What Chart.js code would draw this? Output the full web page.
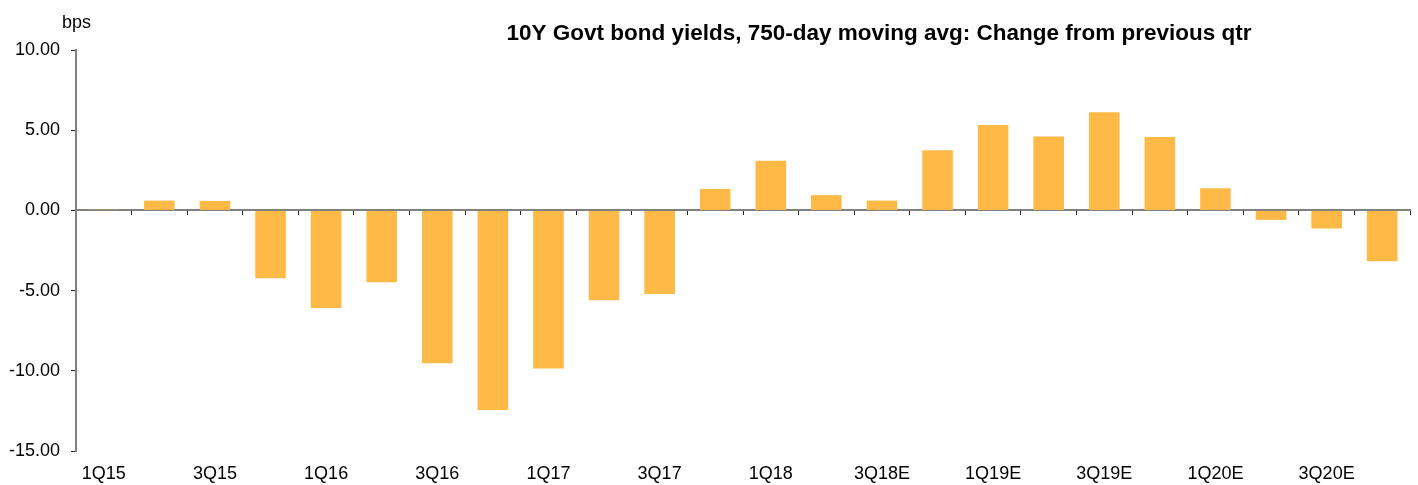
<!DOCTYPE html>
<html>
<head>
<meta charset="utf-8">
<script src="https://cdn.jsdelivr.net/npm/chart.js@4/dist/chart.umd.min.js"></script>
<style>
    html, body { margin: 0; padding: 0; background: #fff; }
    #wrap { width: 1418px; height: 485px; position: relative; }
</style>
</head>
<body>
<div id="wrap"><canvas id="yieldChart"></canvas></div>
<script>
// Quarter labels and change in 750-day moving average (bps)
const quarters = ["1Q15", "2Q15", "3Q15", "4Q15", "1Q16", "2Q16", "3Q16", "4Q16",
    "1Q17", "2Q17", "3Q17", "4Q17", "1Q18", "2Q18", "3Q18E", "4Q18E",
    "1Q19E", "2Q19E", "3Q19E", "4Q19E", "1Q20E", "2Q20E", "3Q20E", "4Q20E"];
const changeBps = [0.05, 0.61, 0.59, -4.23, -6.08, -4.48, -9.53, -12.44,
    -9.86, -5.60, -5.21, 1.34, 3.10, 0.95, 0.61, 3.75,
    5.33, 4.60, 6.12, 4.58, 1.38, -0.59, -1.13, -3.17];
const yTicks = [-15, -10, -5, 0, 5, 10];

const titleText = "10Y Govt bond yields, 750-day moving avg: Change from previous qtr";
const unitText = "bps";
const fontFamily = "'Liberation Sans', Arial, sans-serif";

// Title and unit label sit above the plot area
const headerText = {
    id: "headerText",
    afterDraw(chart) {
        const ctx = chart.ctx;
        ctx.save();
        ctx.fillStyle = "#000";
        ctx.textBaseline = "alphabetic";
        ctx.font = "18px " + fontFamily;
        ctx.textAlign = "left";
        ctx.fillText(unitText, 62, 28);
        ctx.font = "bold 22.5px " + fontFamily;
        ctx.textAlign = "center";
        ctx.fillText(titleText, 879, 40);
        ctx.restore();
    }
};

const ctx = document.getElementById("yieldChart").getContext("2d");
const yieldChart = new Chart(ctx, {
    type: "bar",
    data: {
        labels: quarters,
        datasets: [{
            data: changeBps,
            backgroundColor: "#FFB947",
            borderWidth: 0,
            categoryPercentage: 1,
            barPercentage: 0.55,
            xAxisID: "x",
            yAxisID: "y"
        }]
    },
    options: {
        responsive: true,
        maintainAspectRatio: false,
        animation: false,
        layout: { padding: { left: 0, right: 8, top: 50, bottom: 0 } },
        plugins: {
            legend: { display: false },
            tooltip: { enabled: false }
        },
        scales: {
            x: {
                position: "bottom",
                grid: { display: false, drawTicks: false },
                border: { display: false },
                afterFit: (scale) => { scale.height = 34; },
                ticks: {
                    autoSkip: false,
                    maxRotation: 0,
                    padding: 12,
                    color: "#000",
                    font: { family: fontFamily, size: 18 },
                    // every other quarter is labelled
                    callback: (val, i) => (i % 2 === 0 ? quarters[i] : "")
                }
            },
            // zero line with tick marks between quarters
            x2: {
                type: "category",
                labels: quarters,
                position: { y: 0 },
                offset: true,
                grid: {
                    offset: true,
                    drawOnChartArea: false,
                    drawTicks: true,
                    tickLength: 4,
                    color: "#222",
                    lineWidth: 1
                },
                border: { color: "#808080", width: 2 },
                ticks: { display: false, autoSkip: false }
            },
            y: {
                min: -15,
                max: 10,
                afterBuildTicks: (scale) => {
                    scale.ticks = yTicks.map(v => ({ value: v }));
                },
                afterFit: (scale) => { scale.width = 76; },
                grid: {
                    drawOnChartArea: false,
                    drawTicks: true,
                    tickLength: 5,
                    color: "#222",
                    lineWidth: 1
                },
                border: { color: "#808080", width: 2 },
                ticks: {
                    padding: 11,
                    color: "#000",
                    font: { family: fontFamily, size: 18 },
                    callback: (v) => v.toFixed(2)
                }
            }
        }
    },
    plugins: [headerText]
});
</script>
</body>
</html>
